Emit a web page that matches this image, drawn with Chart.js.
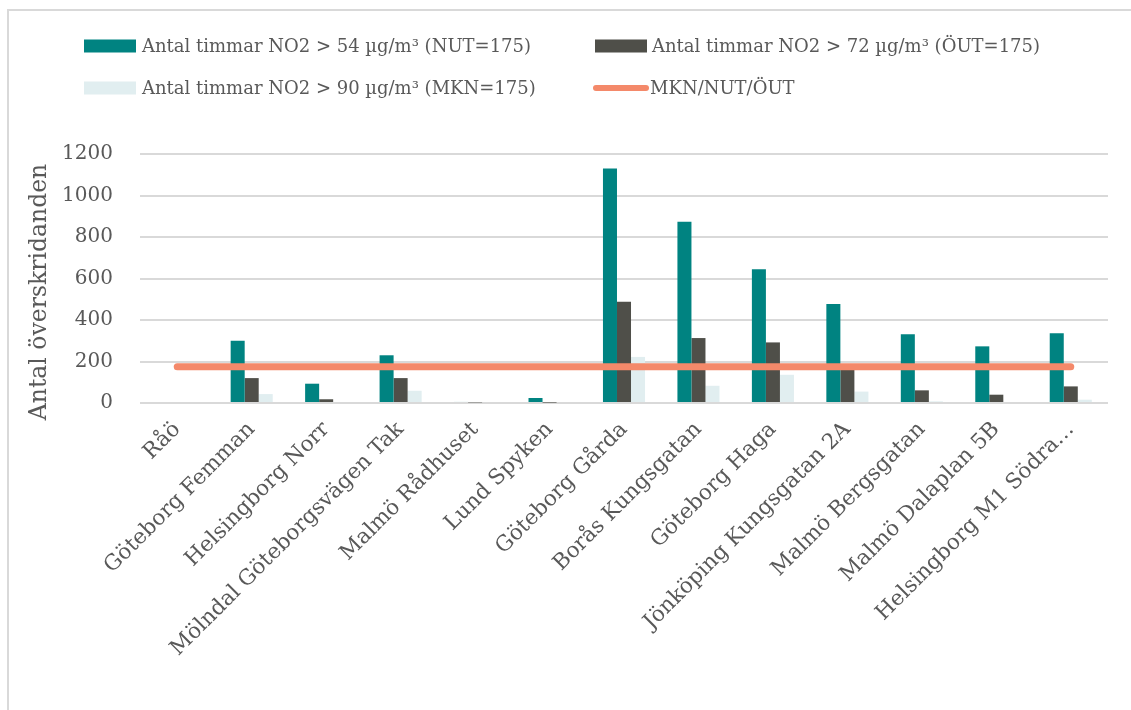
<!DOCTYPE html>
<html>
<head>
<meta charset="utf-8">
<script src="https://cdn.jsdelivr.net/npm/chart.js@4/dist/chart.umd.min.js"></script>
<style>
  html, body { margin: 0; padding: 0; background: #ffffff; }
  #wrap { position: relative; width: 1131px; height: 710px; }
</style>
</head>
<body>
<div id="wrap"><canvas id="c" width="1131" height="710"></canvas></div>
<script>
// Stations (category axis)
const stations = [
  'Råö',
  'Göteborg Femman',
  'Helsingborg Norr',
  'Mölndal Göteborgsvägen Tak',
  'Malmö Rådhuset',
  'Lund Spyken',
  'Göteborg Gårda',
  'Borås Kungsgatan',
  'Göteborg Haga',
  'Jönköping Kungsgatan 2A',
  'Malmö Bergsgatan',
  'Malmö Dalaplan 5B',
  'Helsingborg M1 Södra…'
];

// Number of hours above each threshold
const hoursAbove54 = [0, 300, 93, 230, 5, 24, 1130, 874, 644, 477, 331, 273, 336];
const hoursAbove72 = [0, 120, 18, 120, 3, 2, 488, 313, 292, 170, 61, 40, 80];
const hoursAbove90 = [0, 43, 0, 59, 0, 0, 222, 83, 136, 55, 8, 0, 16];

// Permitted number of exceedances (MKN/NUT/ÖUT)
const limitLine = [175, 175, 175, 175, 175, 175, 175, 175, 175, 175, 175, 175, 175];

// Y axis
const yMin = 0;
const yMax = 1200;
const yStep = 200;
const yTitle = 'Antal överskridanden';

const seriesLabels = [
  'Antal timmar NO2 > 54 µg/m³ (NUT=175)',
  'Antal timmar NO2 > 72 µg/m³ (ÖUT=175)',
  'Antal timmar NO2 > 90 µg/m³ (MKN=175)',
  'MKN/NUT/ÖUT'
];

const TEXT = '#595959';
const GRID = '#D9D9D9';
const FONT = "'DejaVu Serif', 'Liberation Serif', serif";

// Frame around the figure and a white background
const framePlugin = {
  id: 'frame',
  beforeDraw(chart) {
    const ctx = chart.ctx;
    ctx.save();
    ctx.fillStyle = '#ffffff';
    ctx.fillRect(0, 0, chart.width, chart.height);
    ctx.strokeStyle = GRID;
    ctx.lineWidth = 2;
    ctx.beginPath();
    ctx.moveTo(8, chart.height + 2);
    ctx.lineTo(8, 10);
    ctx.lineTo(chart.width + 2, 10);
    ctx.stroke();
    ctx.restore();
  }
};

// Vertical axis title, centred a little below the middle of the plot
const yTitlePlugin = {
  id: 'yTitle',
  afterDraw(chart) {
    const ctx = chart.ctx;
    ctx.save();
    ctx.translate(40, 292);
    ctx.rotate(-Math.PI / 2);
    ctx.font = '23.5px ' + FONT;
    ctx.fillStyle = TEXT;
    ctx.textAlign = 'center';
    ctx.textBaseline = 'middle';
    ctx.fillText(yTitle, 0, 0);
    ctx.restore();
  }
};

// Two-column legend above the plot
const legendPlugin = {
  id: 'twoColLegend',
  afterDraw(chart) {
    const ctx = chart.ctx;
    const ds = chart.data.datasets;
    const slots = [
      { x: 84, y: 46, text: 142 },
      { x: 595, y: 46, text: 652 },
      { x: 84, y: 88, text: 142 },
      { x: 595, y: 88, text: 650 }
    ];
    ctx.save();
    ctx.font = '18px ' + FONT;
    ctx.textBaseline = 'middle';
    ds.forEach((d, i) => {
      const s = slots[i];
      if (d.type === 'line') {
        ctx.strokeStyle = d.borderColor;
        ctx.lineWidth = 6;
        ctx.lineCap = 'round';
        ctx.beginPath();
        ctx.moveTo(s.x + 1, s.y);
        ctx.lineTo(s.x + 51, s.y);
        ctx.stroke();
      } else {
        ctx.fillStyle = d.backgroundColor;
        ctx.fillRect(s.x, s.y - 6.5, 52, 13);
      }
      ctx.fillStyle = TEXT;
      ctx.fillText(d.label, s.text, s.y + 1);
    });
    ctx.restore();
  }
};

new Chart(document.getElementById('c'), {
  type: 'bar',
  data: {
    labels: stations,
    datasets: [
      { label: seriesLabels[0], data: hoursAbove54, backgroundColor: '#008381', order: 1 },
      { label: seriesLabels[1], data: hoursAbove72, backgroundColor: '#4F4F49', order: 1 },
      { label: seriesLabels[2], data: hoursAbove90, backgroundColor: '#E1EEF0', order: 1 },
      {
        type: 'line', label: seriesLabels[3], data: limitLine,
        borderColor: '#F4896A', backgroundColor: '#F4896A',
        borderWidth: 7, borderCapStyle: 'round', pointRadius: 0, fill: false, order: 0
      }
    ]
  },
  options: {
    responsive: false,
    animation: false,
    layout: { padding: { top: 154, right: 23, bottom: 0, left: 0 } },
    datasets: { bar: { categoryPercentage: 0.565, barPercentage: 1.0 } },
    plugins: { legend: { display: false }, tooltip: { enabled: false } },
    scales: {
      x: {
        grid: { display: false, drawTicks: false },
        border: { display: false },
        ticks: {
          autoSkip: false, minRotation: 45, maxRotation: 45, padding: 14,
          color: TEXT, font: { family: FONT, size: 21.5 }
        },
        afterFit(scale) { scale.height = 307; }
      },
      y: {
        min: yMin, max: yMax,
        grid: { color: GRID, lineWidth: 2, drawTicks: false },
        border: { display: false },
        ticks: {
          stepSize: yStep, padding: 27, color: TEXT,
          font: { family: FONT, size: 20 },
          callback: (v) => String(v)
        },
        afterFit(scale) { scale.width = 140; }
      }
    }
  },
  plugins: [framePlugin, legendPlugin, yTitlePlugin]
});
</script>
</body>
</html>
